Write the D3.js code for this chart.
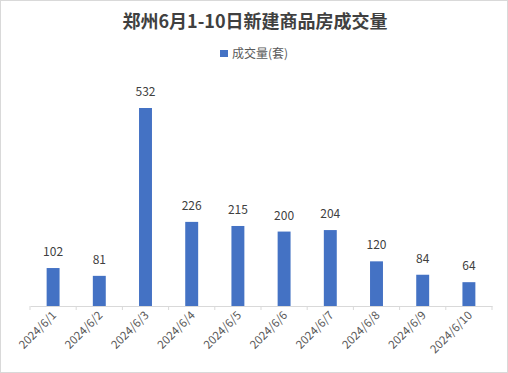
<!DOCTYPE html>
<html>
<head>
<meta charset="utf-8">
<script src="https://cdn.jsdelivr.net/npm/d3@7"></script>
<style>
  body { margin: 0; background: #fff; }
  svg { display: block; font-family: "Microsoft YaHei", "Noto Sans CJK SC", sans-serif; }
</style>
</head>
<body>
<div id="chart"></div>
<script>
const dates = ['2024/6/1', '2024/6/2', '2024/6/3', '2024/6/4', '2024/6/5',
               '2024/6/6', '2024/6/7', '2024/6/8', '2024/6/9', '2024/6/10'];
const deals = [102, 81, 532, 226, 215, 200, 204, 120, 84, 64];
const seriesName = '成交量(套)';
const title = '郑州6月1-10日新建商品房成交量';

const W = 508, H = 373;
const svg = d3.select('#chart').append('svg')
    .attr('width', W)
    .attr('height', H);

// outer border
svg.append('rect')
    .attr('x', 0.5).attr('y', 0.5)
    .attr('width', W - 1).attr('height', H - 1)
    .attr('fill', '#fff')
    .attr('stroke', '#d9d9d9');

const margin = {top: 108, right: 16, bottom: 67, left: 30};
const x = d3.scaleBand()
    .domain(dates)
    .range([margin.left, W - margin.right])
    .paddingInner(0.72)
    .paddingOuter(0.36);
const y = d3.scaleLinear()
    .domain([0, 532])
    .range([H - margin.bottom, margin.top]);

// title
svg.append('text')
    .attr('x', W / 2 + 1).attr('y', 28)
    .attr('text-anchor', 'middle')
    .attr('font-size', 18)
    .attr('font-weight', 'bold')
    .attr('fill', '#404040')
    .text(title);

// legend
svg.append('rect')
    .attr('x', 220).attr('y', 50)
    .attr('width', 8).attr('height', 7)
    .attr('fill', '#4472c4');
svg.append('text')
    .attr('x', 232).attr('y', 58)
    .attr('font-size', 12)
    .attr('fill', '#595959')
    .text(seriesName);

// bars
svg.selectAll('rect.bar')
    .data(deals)
    .enter()
    .append('rect')
    .attr('class', 'bar')
    .attr('x', (d, i) => x(dates[i]))
    .attr('y', d => y(d))
    .attr('width', x.bandwidth())
    .attr('height', d => y(0) - y(d))
    .attr('fill', '#4472c4');

// value labels
svg.selectAll('text.val')
    .data(deals)
    .enter()
    .append('text')
    .attr('class', 'val')
    .attr('x', (d, i) => x(dates[i]) + x.bandwidth() / 2)
    .attr('y', d => y(d) - 12)
    .attr('text-anchor', 'middle')
    .attr('font-size', 12)
    .attr('fill', '#404040')
    .text(d => d);

// x axis
const xAxis = d3.axisBottom(x).tickSize(0).tickPadding(0);
const xg = svg.append('g')
    .attr('transform', `translate(0, ${H - margin.bottom})`)
    .call(xAxis);
xg.select('.domain').attr('stroke', '#d9d9d9');
// boundary ticks between categories
const bounds = d3.range(dates.length + 1).map(i => margin.left + i * x.step());
xg.selectAll('line.bound')
    .data(bounds)
    .enter()
    .append('line')
    .attr('class', 'bound')
    .attr('x1', d => d).attr('x2', d => d)
    .attr('y1', 0).attr('y2', 4)
    .attr('stroke', '#d9d9d9');
xg.selectAll('.tick text')
    .attr('font-size', 11.5)
    .attr('font-family', '"Microsoft YaHei", "Noto Sans CJK SC", sans-serif')
    .attr('fill', '#595959')
    .attr('text-anchor', 'end')
    .attr('dy', 0)
    .attr('transform', 'translate(4, 10) rotate(-45)');
</script>
</body>
</html>
